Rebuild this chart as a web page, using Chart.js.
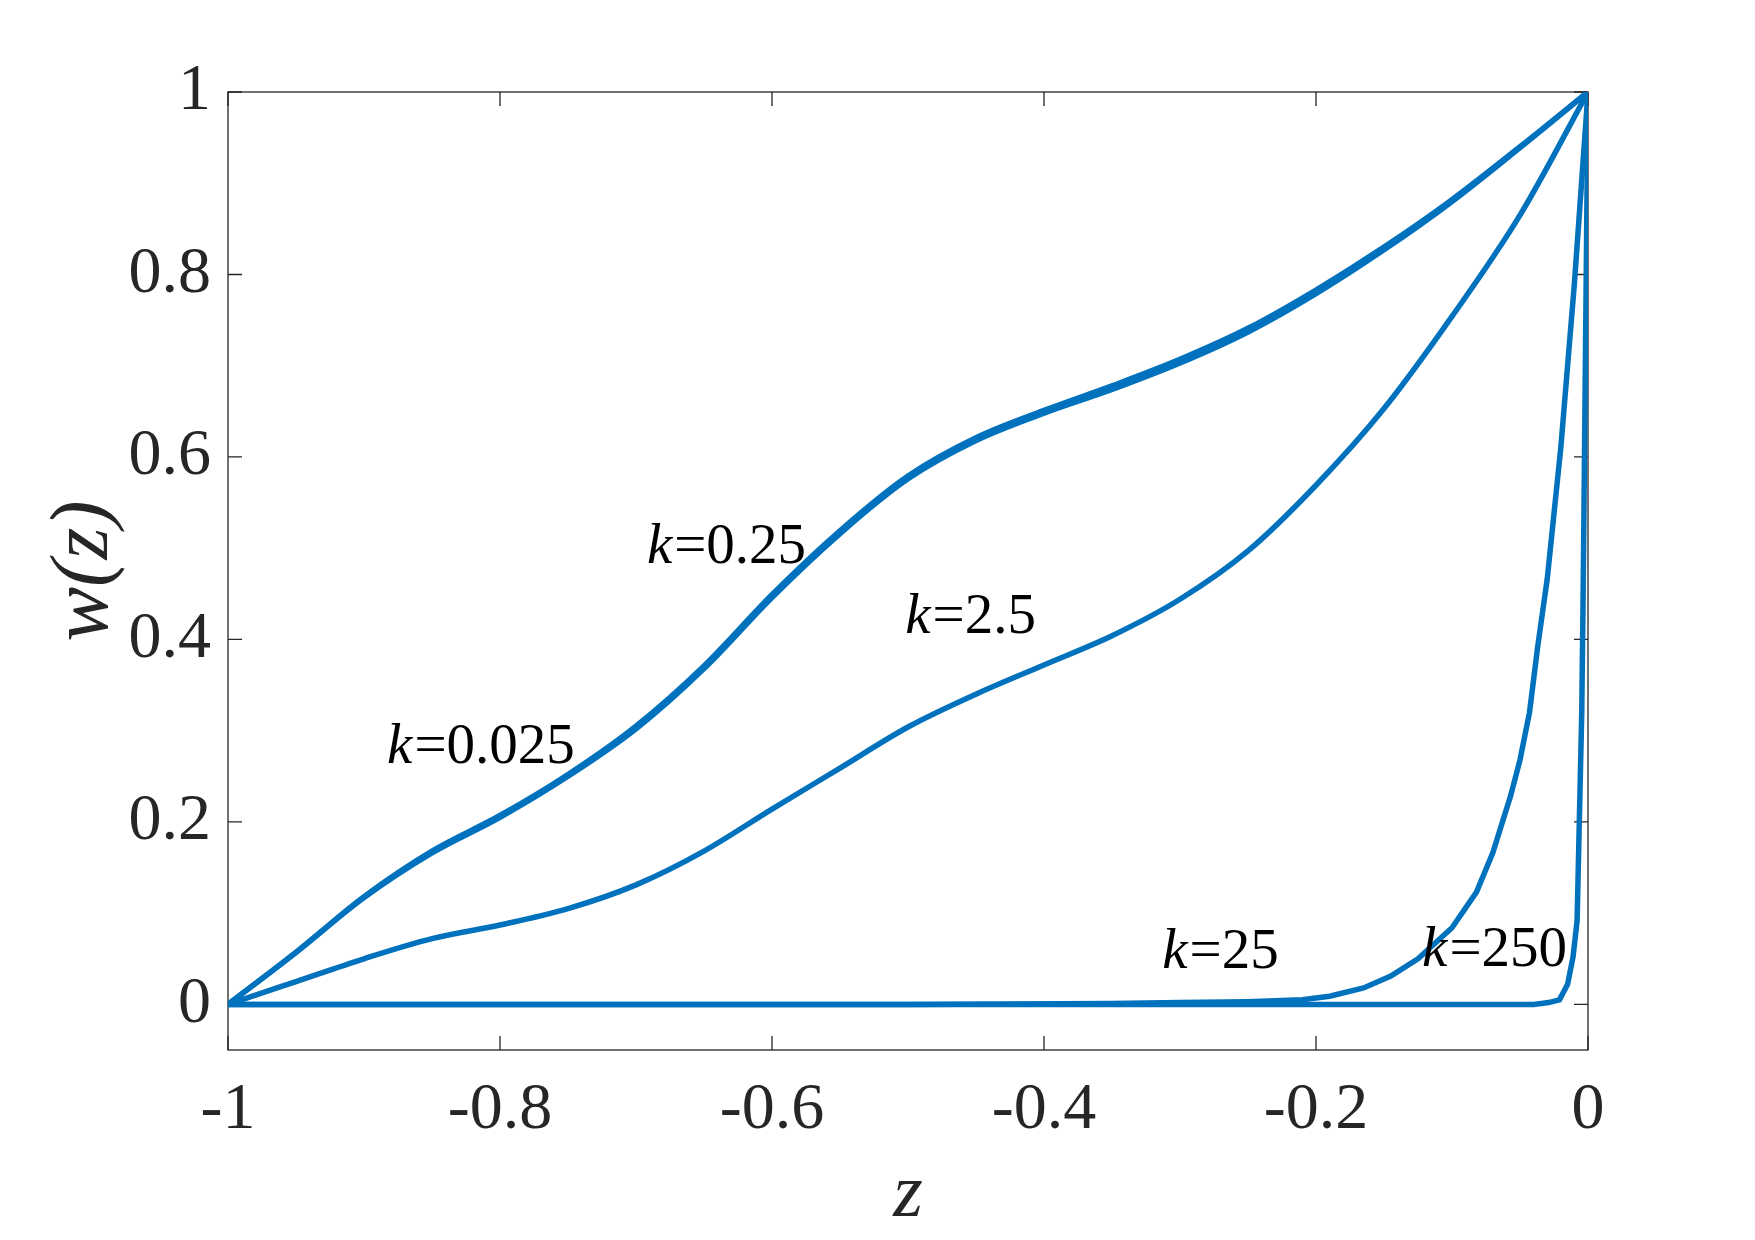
<!DOCTYPE html>
<html>
<head>
<meta charset="utf-8">
<script src="https://cdn.jsdelivr.net/npm/chart.js@4.4.0/dist/chart.umd.min.js"></script>
<style>
  html, body { margin: 0; padding: 0; background: #fff; }
  #wrap { width: 1755px; height: 1240px; }
</style>
</head>
<body>
<div id="wrap"><canvas id="wChart" width="1755" height="1240"></canvas></div>
<script>
// Axis ticks
const xTicks = [-1, -0.8, -0.6, -0.4, -0.2, 0];
const xTickLabels = ['-1', '-0.8', '-0.6', '-0.4', '-0.2', '0'];
const yTicks = [0, 0.2, 0.4, 0.6, 0.8, 1];
const yTickLabels = ['0', '0.2', '0.4', '0.6', '0.8', '1'];

// Curves w(z)
const zSmooth = [-1, -0.95, -0.9, -0.85, -0.8, -0.75, -0.7, -0.65, -0.6, -0.55, -0.5,
                 -0.45, -0.4, -0.35, -0.3, -0.25, -0.2, -0.15, -0.1, -0.05, 0];
const wK0p025 = [0, 0.057, 0.117, 0.166, 0.205, 0.250, 0.302, 0.368, 0.446, 0.516, 0.576,
                 0.618, 0.648, 0.674, 0.703, 0.737, 0.779, 0.827, 0.880, 0.939, 1];
const wK0p25  = [0, 0.057, 0.118, 0.168, 0.207, 0.252, 0.305, 0.371, 0.449, 0.519, 0.579,
                 0.621, 0.651, 0.678, 0.707, 0.741, 0.783, 0.830, 0.882, 0.940, 1];
const wK2p5   = [0, 0.025, 0.050, 0.072, 0.087, 0.105, 0.131, 0.168, 0.214, 0.259, 0.304,
                 0.340, 0.372, 0.404, 0.444, 0.497, 0.569, 0.653, 0.754, 0.865, 1];

const zK25 = [-1, -0.5, -0.35, -0.3, -0.25, -0.21, -0.19, -0.165, -0.145, -0.125, -0.1,
              -0.082, -0.07, -0.057, -0.05, -0.043, -0.037, -0.03, -0.02, -0.01, 0];
const wK25 = [0, 0, 0.001, 0.002, 0.003, 0.005, 0.009, 0.018, 0.031, 0.05, 0.084,
              0.123, 0.166, 0.228, 0.268, 0.32, 0.392, 0.466, 0.61, 0.79, 1];

const zK250 = [-1, -0.04, -0.029, -0.021, -0.015, -0.011, -0.008, -0.006, -0.0046, -0.0035, 0];
const wK250 = [0, 0, 0.002, 0.005, 0.022, 0.052, 0.092, 0.226, 0.32, 0.46, 1];

// Curve labels (k value, anchor z, anchor w)
const labelK = ['0.025', '0.25', '2.5', '25', '250'];
const labelZ = [-0.883, -0.692, -0.502, -0.313, -0.122];
const labelW = [0.281, 0.500, 0.423, 0.056, 0.059];

const blue = '#0072BD';
const axisColor = '#262626';
const serif = '"Liberation Serif", "DejaVu Serif", serif';

const toPoints = (zs, ws) => zs.map((z, i) => ({ x: z, y: ws[i] }));

function curve(zs, ws, smooth) {
  return {
    data: toPoints(zs, ws),
    borderColor: blue,
    borderWidth: 5.5,
    pointRadius: 0,
    fill: false,
    tension: 0,
    cubicInterpolationMode: smooth ? 'monotone' : 'default'
  };
}

// box, inward ticks and k= labels
const framePlugin = {
  id: 'frame',
  beforeDatasetsDraw(chart) {
    const { ctx, chartArea: a, scales: { x, y } } = chart;
    const t = 14;
    ctx.save();
    ctx.strokeStyle = axisColor;
    ctx.lineWidth = 1.3;
    ctx.strokeRect(a.left, a.top, a.right - a.left, a.bottom - a.top);
    ctx.beginPath();
    xTicks.forEach(v => {
      const px = x.getPixelForValue(v);
      ctx.moveTo(px, a.bottom); ctx.lineTo(px, a.bottom - t);
      ctx.moveTo(px, a.top); ctx.lineTo(px, a.top + t);
    });
    yTicks.forEach(v => {
      const py = y.getPixelForValue(v);
      ctx.moveTo(a.left, py); ctx.lineTo(a.left + t, py);
      ctx.moveTo(a.right, py); ctx.lineTo(a.right - t, py);
    });
    ctx.stroke();
    ctx.restore();
  },
  afterDatasetsDraw(chart) {
    const { ctx, scales: { x, y } } = chart;
    ctx.save();
    ctx.fillStyle = '#000';
    ctx.textBaseline = 'middle';
    ctx.textAlign = 'left';
    labelK.forEach((k, i) => {
      let px = x.getPixelForValue(labelZ[i]);
      const py = y.getPixelForValue(labelW[i]);
      ctx.font = 'italic 57px ' + serif;
      ctx.fillText('k', px, py);
      px += ctx.measureText('k').width + 2;
      ctx.font = '57px ' + serif;
      ctx.fillText('=' + k, px, py);
    });
    ctx.restore();
  }
};

new Chart(document.getElementById('wChart'), {
  type: 'line',
  data: {
    datasets: [
      curve(zSmooth, wK0p025, true),
      curve(zSmooth, wK0p25, true),
      curve(zSmooth, wK2p5, true),
      curve(zK25, wK25, false),
      curve(zK250, wK250, false)
    ]
  },
  options: {
    responsive: false,
    animation: false,
    layout: { padding: { top: 92, right: 167, left: 0, bottom: 0 } },
    plugins: { legend: { display: false }, tooltip: { enabled: false } },
    scales: {
      x: {
        type: 'linear', min: -1, max: 0,
        grid: { display: false, drawTicks: false },
        border: { display: false },
        afterBuildTicks: s => { s.ticks = xTicks.map(v => ({ value: v })); },
        afterFit: s => { s.height = 190; },
        ticks: {
          callback: (v, i) => xTickLabels[i],
          font: { family: serif, size: 66 }, color: axisColor,
          padding: 21, maxRotation: 0, autoSkip: false
        },
        title: {
          display: true, text: 'z', color: axisColor,
          font: { family: serif, size: 76, style: 'italic' },
          padding: { top: 0, bottom: -2 }
        }
      },
      y: {
        type: 'linear', min: -0.05, max: 1,
        grid: { display: false, drawTicks: false },
        border: { display: false },
        afterBuildTicks: s => { s.ticks = yTicks.map(v => ({ value: v })); },
        afterFit: s => { s.width = 228; },
        ticks: {
          callback: (v, i) => yTickLabels[i],
          font: { family: serif, size: 66 }, color: axisColor,
          padding: 17, autoSkip: false
        },
        title: {
          display: true, text: 'w(z)', color: axisColor,
          font: { family: serif, size: 82, style: 'italic' },
          padding: { top: 36, bottom: 0 }
        }
      }
    }
  },
  plugins: [framePlugin]
});
</script>
</body>
</html>
